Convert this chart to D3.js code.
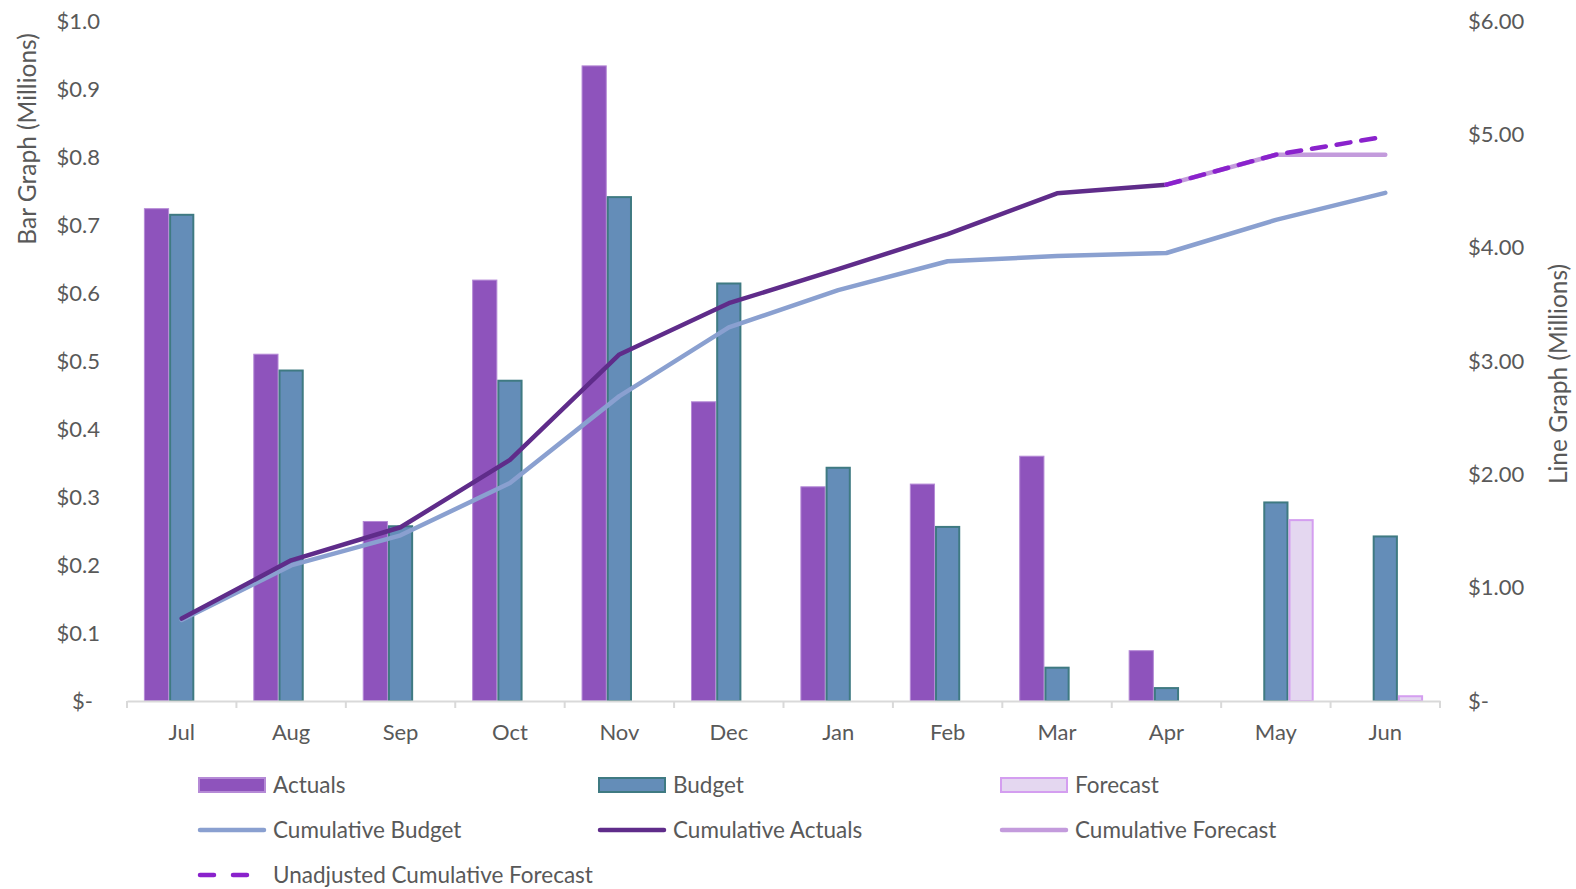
<!DOCTYPE html>
<html>
<head>
<meta charset="utf-8">
<script src="https://cdn.jsdelivr.net/npm/d3@7"></script>
<style>
  body { margin: 0; background: #fff; }
  text { font-family: Lato, "Open Sans", sans-serif; fill: #595959; }
</style>
</head>
<body>
<svg id="chart"></svg>
<script>
// monthly values, $ millions
const months = ['Jul', 'Aug', 'Sep', 'Oct', 'Nov', 'Dec', 'Jan', 'Feb', 'Mar', 'Apr', 'May', 'Jun'];
const actuals = [0.724, 0.510, 0.264, 0.619, 0.934, 0.440, 0.315, 0.319, 0.360, 0.074, null, null];
const budget = [0.715, 0.486, 0.257, 0.471, 0.741, 0.614, 0.343, 0.256, 0.049, 0.019, 0.292, 0.242];
const forecast = [null, null, null, null, null, null, null, null, null, null, 0.266, 0.007];

// cumulative lines, $ millions (right axis)
const cumBudget = [0.715, 1.196, 1.462, 1.923, 2.690, 3.297, 3.625, 3.880, 3.926, 3.953, 4.245, 4.484];
const cumActuals = [0.727, 1.241, 1.533, 2.127, 3.058, 3.510, 3.810, 4.120, 4.480, 4.556, null, null];
const cumForecast = [null, null, null, null, null, null, null, null, null, 4.556, 4.820, 4.820];
const unadjForecast = [null, null, null, null, null, null, null, null, null, 4.556, 4.820, 4.980];

const leftTicks = [0, 0.1, 0.2, 0.3, 0.4, 0.5, 0.6, 0.7, 0.8, 0.9, 1.0];
const rightTicks = [0, 1, 2, 3, 4, 5, 6];

const width = 1576, height = 889;
const m = { left: 127, right: 1440, top: 21, bottom: 701 };

const svg = d3.select('#chart')
  .attr('width', width)
  .attr('height', height);

const x = d3.scaleBand().domain(months).range([m.left, m.right]);
const xSub = d3.scaleBand().domain(['a', 'b', 'f']).range([0, x.bandwidth()]).paddingOuter(0.67);
const yL = d3.scaleLinear().domain([0, 1]).range([m.bottom, m.top]);
const yR = d3.scaleLinear().domain([0, 6]).range([m.bottom, m.top]);

// left axis labels
const leftAxis = svg.append('g')
  .attr('transform', `translate(${m.left - 27},0)`)
  .call(d3.axisLeft(yL).tickValues(leftTicks).tickSize(0).tickPadding(0)
    .tickFormat(d => d === 0 ? '$-' : '$' + d3.format('.1f')(d)));
leftAxis.select('.domain').remove();
leftAxis.selectAll('text').attr('font-size', 22).attr('fill', '#595959')
  .style('font-family', 'Lato, sans-serif')
  .attr('dx', d => d === 0 ? -7 : 0);

// right axis labels
const rightAxis = svg.append('g')
  .attr('transform', `translate(${m.right + 28},0)`)
  .call(d3.axisRight(yR).tickValues(rightTicks).tickSize(0).tickPadding(0)
    .tickFormat(d => d === 0 ? '$-' : '$' + d3.format('.2f')(d)));
rightAxis.select('.domain').remove();
rightAxis.selectAll('text').attr('font-size', 22).attr('fill', '#595959')
  .style('font-family', 'Lato, sans-serif');

// bars
const bars = svg.append('g');
const series = [
  { key: 'a', data: actuals, fill: '#8e53bc', stroke: '#b58ad6', sw: 1 },
  { key: 'b', data: budget, fill: '#648db8', stroke: '#3f7a82', sw: 2 },
  { key: 'f', data: forecast, fill: '#e4d7f0', stroke: '#d49ef0', sw: 2 }
];
series.forEach(s => {
  bars.selectAll(null)
    .data(months.map((mo, i) => ({ mo, v: s.data[i] })).filter(d => d.v != null))
    .enter()
    .append('rect')
    .attr('x', d => x(d.mo) + xSub(s.key) + s.sw / 2)
    .attr('y', d => yL(d.v))
    .attr('width', xSub.bandwidth() - s.sw)
    .attr('height', d => m.bottom - yL(d.v))
    .attr('fill', s.fill)
    .attr('stroke', s.stroke)
    .attr('stroke-width', s.sw);
});

// x axis
const xAxis = svg.append('g')
  .attr('transform', `translate(0,${m.bottom})`)
  .call(d3.axisBottom(x).tickSize(0).tickPadding(23));
xAxis.select('.domain').attr('stroke', '#d9d9d9').attr('stroke-width', 2);
xAxis.selectAll('text').attr('font-size', 22).attr('fill', '#595959')
  .style('font-family', 'Lato, sans-serif');
svg.append('g').selectAll('line')
  .data(months.concat(['end']))
  .enter()
  .append('line')
  .attr('x1', (d, i) => i < months.length ? x(d) : m.right)
  .attr('x2', (d, i) => i < months.length ? x(d) : m.right)
  .attr('y1', m.bottom)
  .attr('y2', m.bottom + 7)
  .attr('stroke', '#d9d9d9')
  .attr('stroke-width', 2);

// lines
const line = d3.line()
  .defined(d => d.v != null)
  .x(d => x(d.mo) + x.bandwidth() / 2)
  .y(d => yR(d.v));
const lineSeries = [
  { data: cumBudget, color: '#8aa0d0', dash: null },
  { data: cumActuals, color: '#5f2c8a', dash: null },
  { data: cumForecast, color: '#c39bdc', dash: null },
  { data: unadjForecast, color: '#8a22cc', dash: '14,11' }
];
lineSeries.forEach(s => {
  svg.append('path')
    .datum(months.map((mo, i) => ({ mo, v: s.data[i] })))
    .attr('d', line)
    .attr('fill', 'none')
    .attr('stroke', s.color)
    .attr('stroke-width', 4.5)
    .attr('stroke-linecap', 'round')
    .attr('stroke-linejoin', 'round')
    .attr('stroke-dasharray', s.dash);
});

// axis titles
svg.append('text')
  .attr('transform', 'translate(36,139) rotate(-90)')
  .attr('text-anchor', 'middle')
  .attr('font-size', 24.5)
  .text('Bar Graph (Millions)');
svg.append('text')
  .attr('transform', 'translate(1567,374) rotate(-90)')
  .attr('text-anchor', 'middle')
  .attr('font-size', 24.5)
  .text('Line Graph (Millions)');

// legend
const legendItems = [
  { label: 'Actuals', type: 'rect', fill: '#8e53bc', stroke: '#b58ad6', col: 0, row: 0 },
  { label: 'Budget', type: 'rect', fill: '#648db8', stroke: '#3f7a82', col: 1, row: 0 },
  { label: 'Forecast', type: 'rect', fill: '#e4d7f0', stroke: '#d49ef0', col: 2, row: 0 },
  { label: 'Cumulative Budget', type: 'line', color: '#8aa0d0', col: 0, row: 1 },
  { label: 'Cumulative Actuals', type: 'line', color: '#5f2c8a', col: 1, row: 1 },
  { label: 'Cumulative Forecast', type: 'line', color: '#c39bdc', col: 2, row: 1 },
  { label: 'Unadjusted Cumulative Forecast', type: 'dash', color: '#8a22cc', col: 0, row: 2 }
];
const colX = [198, 598, 1000];
const rowY = [785, 830, 875];
const legend = svg.append('g');
legendItems.forEach(it => {
  const g = legend.append('g').attr('transform', `translate(${colX[it.col]},${rowY[it.row]})`);
  if (it.type === 'rect') {
    g.append('rect')
      .attr('x', 1).attr('y', -7).attr('width', 66).attr('height', 14)
      .attr('fill', it.fill).attr('stroke', it.stroke).attr('stroke-width', 2);
  } else {
    g.append('line')
      .attr('x1', 2).attr('x2', 66).attr('y1', 0).attr('y2', 0)
      .attr('stroke', it.color).attr('stroke-width', 4.5)
      .attr('stroke-linecap', 'round')
      .attr('stroke-dasharray', it.type === 'dash' ? '14,19' : null);
  }
  g.append('text')
    .attr('x', 75)
    .attr('dy', '0.35em')
    .attr('font-size', 22.5)
    .text(it.label);
});
</script>
</body>
</html>
